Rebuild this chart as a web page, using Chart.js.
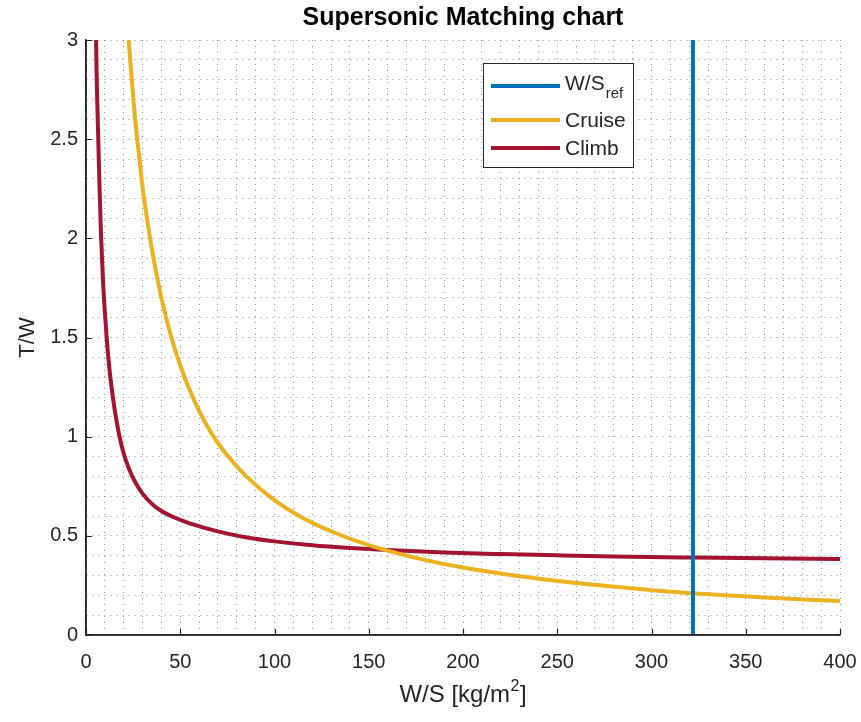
<!DOCTYPE html>
<html>
<head>
<meta charset="utf-8">
<title>Supersonic Matching chart</title>
<script src="https://cdn.jsdelivr.net/npm/chart.js@4.4.1/dist/chart.umd.min.js"></script>
<style>
  html, body { margin: 0; padding: 0; background: #fff; }
  #wrap { position: relative; width: 861px; height: 722px; }
</style>
</head>
<body>
<div id="wrap"><canvas id="matchChart" width="861" height="722"></canvas></div>
<script>
// values
const refWS = 322;
const refY = [0, 3];

const cruiseX = [22.5, 24, 26, 28, 30, 33, 36, 40, 45, 50, 55, 60, 67, 75, 85, 100, 115, 130, 150, 175, 200, 230, 260, 290, 322, 360, 400];
const cruiseY = [3.02, 2.83, 2.61, 2.43, 2.26, 2.06, 1.89, 1.70, 1.51, 1.36, 1.235, 1.13, 1.01, 0.905, 0.80, 0.68, 0.59, 0.523, 0.453, 0.389, 0.34, 0.296, 0.262, 0.235, 0.21, 0.189, 0.171];

const climbX = [5.2, 5.6, 6, 6.5, 7, 7.5, 8, 9, 10, 11, 12, 13.5, 15, 17.5, 20, 23, 26, 30, 35, 40, 46, 55, 65, 75, 87, 100, 120, 140, 160, 190, 220, 250, 280, 322, 360, 400];
const climbY = [3.08, 2.85, 2.68, 2.50, 2.32, 2.16, 2.01, 1.79, 1.63, 1.495, 1.383, 1.254, 1.15, 1.013, 0.915, 0.833, 0.773, 0.713, 0.661, 0.625, 0.596, 0.563, 0.535, 0.511, 0.489, 0.472, 0.4525, 0.4386, 0.428, 0.416, 0.408, 0.4016, 0.396, 0.3907, 0.3867, 0.383];

const xTicks = [0, 50, 100, 150, 200, 250, 300, 350, 400];
const yTicks = [0, 0.5, 1, 1.5, 2, 2.5, 3];

const seriesNames = ["W/S", "Cruise", "Climb"];
const seriesSubs = ["ref", "", ""];
const seriesColors = ["#0072BD", "#EDB120", "#A2142F"];

const FONT = "'Liberation Sans', Arial, Helvetica, sans-serif";
const INK = "#262626";
const GRID = "rgba(0,0,0,0.42)";

const toPoints = (xs, ys) => xs.map((v, i) => ({ x: v, y: ys[i] }));
const isMajor = (v, list) => list.some(t => Math.abs(t - v) < 1e-6);

// title, axis lines, inward tick marks, x label with superscript, legend with subscript
const axisDecor = {
    id: "axisDecor",
    afterDraw(chart) {
        const { ctx, chartArea: a, scales: { x, y } } = chart;
        ctx.save();

        // title centred over the plot box
        ctx.fillStyle = "#000";
        ctx.font = `bold 25px ${FONT}`;
        ctx.textAlign = "center";
        ctx.textBaseline = "middle";
        ctx.fillText("Supersonic Matching chart", (a.left + a.right) / 2, 18);

        ctx.strokeStyle = INK;
        ctx.lineWidth = 1.5;
        ctx.setLineDash([]);
        ctx.beginPath();
        ctx.moveTo(a.left, a.top);
        ctx.lineTo(a.left, a.bottom);
        ctx.lineTo(a.right, a.bottom);
        ctx.stroke();

        ctx.lineWidth = 1.2;
        ctx.beginPath();
        xTicks.forEach(v => {
            const px = Math.round(x.getPixelForValue(v)) + 0.5;
            ctx.moveTo(px, a.bottom);
            ctx.lineTo(px, a.bottom - 6);
        });
        yTicks.forEach(v => {
            const py = Math.round(y.getPixelForValue(v)) + 0.5;
            ctx.moveTo(a.left, py);
            ctx.lineTo(a.left + 6, py);
        });
        ctx.stroke();

        // x axis title: W/S [kg/m^2]
        const main = "W/S [kg/m";
        ctx.fillStyle = INK;
        ctx.textBaseline = "alphabetic";
        ctx.textAlign = "left";
        ctx.font = `24px ${FONT}`;
        const w1 = ctx.measureText(main).width;
        const w3 = ctx.measureText("]").width;
        ctx.font = `16px ${FONT}`;
        const w2 = ctx.measureText("2").width;
        const total = w1 + w2 + w3 + 1;
        const tx = (a.left + a.right) / 2 - total / 2;
        const base = 702;
        ctx.font = `24px ${FONT}`;
        ctx.fillText(main, tx, base);
        ctx.font = `16px ${FONT}`;
        ctx.fillText("2", tx + w1 + 0.5, base - 11);
        ctx.font = `24px ${FONT}`;
        ctx.fillText("]", tx + w1 + w2 + 1, base);

        // legend
        const box = { x: 483.5, y: 63.5, w: 150, h: 104 };
        ctx.fillStyle = "#fff";
        ctx.fillRect(box.x, box.y, box.w, box.h);
        ctx.strokeStyle = INK;
        ctx.lineWidth = 1;
        ctx.strokeRect(box.x, box.y, box.w, box.h);
        const lineY = [86, 120, 148];
        const textY = [84, 121.5, 149.5];
        seriesNames.forEach((name, i) => {
            ctx.strokeStyle = seriesColors[i];
            ctx.lineWidth = 4;
            ctx.beginPath();
            ctx.moveTo(491, lineY[i]);
            ctx.lineTo(560, lineY[i]);
            ctx.stroke();
            ctx.fillStyle = INK;
            ctx.font = `21px ${FONT}`;
            ctx.textBaseline = "middle";
            ctx.fillText(name, 565, textY[i]);
            if (seriesSubs[i]) {
                const nw = ctx.measureText(name).width;
                ctx.font = `15px ${FONT}`;
                ctx.fillText(seriesSubs[i], 565 + nw + 1, textY[i] + 10);
            }
        });

        ctx.restore();
    }
};

const ctx = document.getElementById("matchChart").getContext("2d");

new Chart(ctx, {
    type: "line",
    data: {
        datasets: [
            {
                label: "W/S_ref",
                data: toPoints([refWS, refWS], refY),
                borderColor: seriesColors[0],
                borderWidth: 4
            },
            {
                label: "Cruise",
                data: toPoints(cruiseX, cruiseY),
                borderColor: seriesColors[1],
                borderWidth: 4,
                cubicInterpolationMode: "monotone"
            },
            {
                label: "Climb",
                data: toPoints(climbX, climbY),
                borderColor: seriesColors[2],
                borderWidth: 4,
                cubicInterpolationMode: "monotone"
            }
        ]
    },
    options: {
        responsive: false,
        animation: false,
        devicePixelRatio: 1,
        layout: { padding: { left: 0, right: 21, top: 40, bottom: 0 } },
        elements: { point: { radius: 0 } },
        plugins: {
            legend: { display: false },
            tooltip: { enabled: false },
            title: { display: false }
        },
        scales: {
            x: {
                type: "linear",
                min: 0,
                max: 400,
                afterFit: s => { s.height = 87; s.paddingLeft = 0; s.paddingRight = 0; },
                border: { display: true, color: INK, width: 1.5, dash: [1, 5] },
                grid: {
                    drawTicks: false,
                    color: GRID,
                    lineWidth: 1
                },
                ticks: {
                    stepSize: 10,
                    autoSkip: false,
                    maxRotation: 0,
                    padding: 15,
                    color: INK,
                    font: { family: FONT, size: 20 },
                    callback: v => isMajor(v, xTicks) ? String(v) : ""
                }
            },
            y: {
                min: 0,
                max: 3,
                afterFit: s => { s.width = 86; s.paddingTop = 0; s.paddingBottom = 0; },
                border: { display: true, color: INK, width: 1.5, dash: [1, 5] },
                grid: {
                    drawTicks: false,
                    color: GRID,
                    lineWidth: 1
                },
                ticks: {
                    stepSize: 0.1,
                    autoSkip: false,
                    padding: 8,
                    color: INK,
                    font: { family: FONT, size: 20 },
                    callback: v => isMajor(v, yTicks) ? String(Math.round(v * 10) / 10) : ""
                },
                title: {
                    display: true,
                    text: "T/W",
                    color: INK,
                    font: { family: FONT, size: 22 },
                    padding: { top: 15, bottom: 0 }
                }
            }
        }
    },
    plugins: [axisDecor]
});
</script>
</body>
</html>
